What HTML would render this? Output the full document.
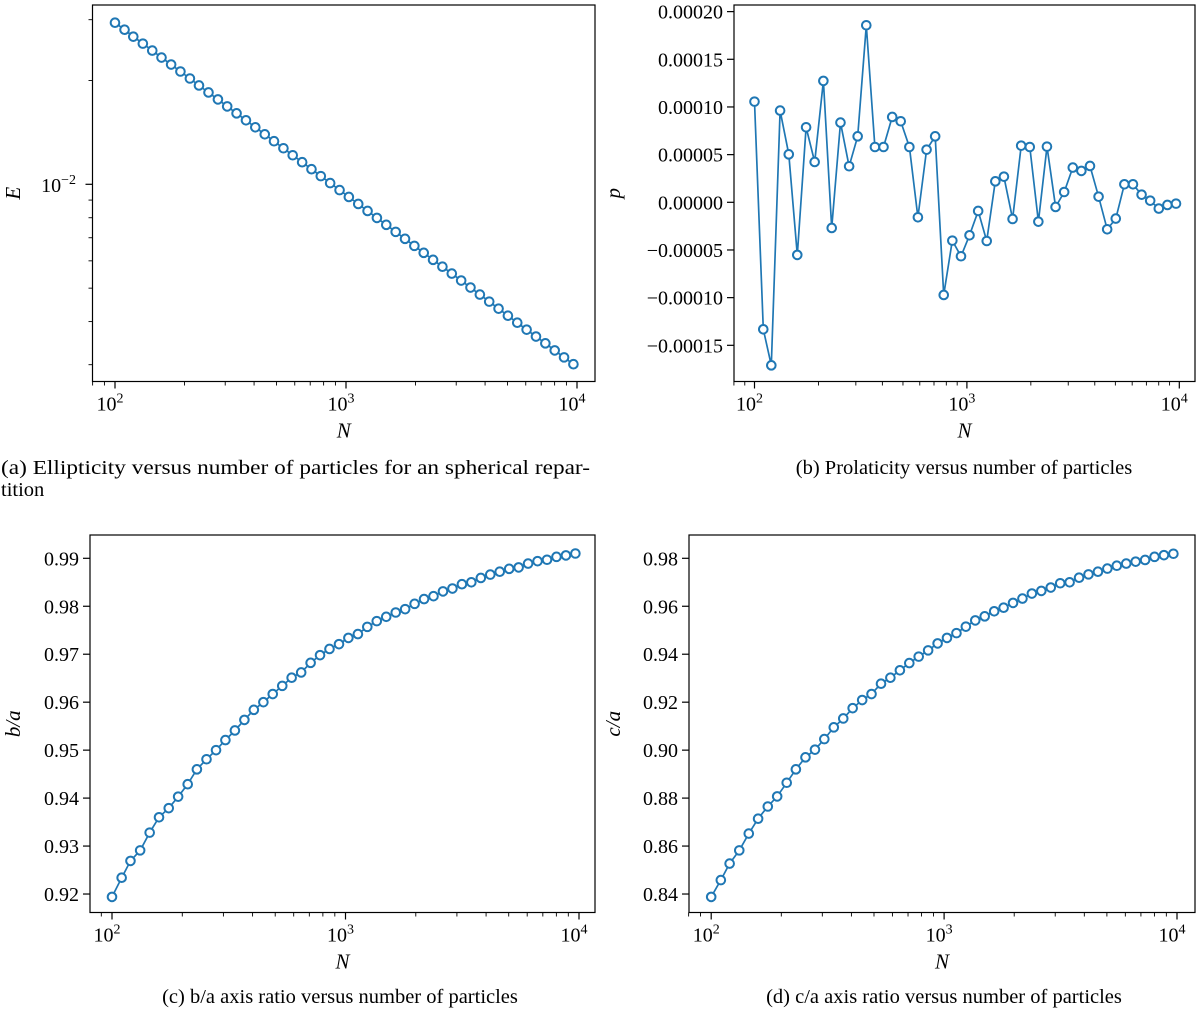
<!DOCTYPE html>
<html><head><meta charset="utf-8"><style>
body{margin:0;background:#fff}
svg{display:block;font-family:"Liberation Serif",serif}
</style></head><body>
<svg id="fig" width="1200" height="1012" viewBox="0 0 1200 1012" xmlns="http://www.w3.org/2000/svg"></svg>
<script>
const Ns=[100,110,120,132,145,159,175,192,211,231,254,279,306,336,369,405,445,488,536,588,646,709,778,854,938,1029,1130,1240,1361,1494,1641,1801,1977,2170,2382,2615,2871,3152,3459,3798,4169,4576,5023,5514,6053,6645,7295,8008,8790,9650];
const Evals=[0.02940,0.02806,0.02679,0.02557,0.02441,0.02330,0.02224,0.02123,0.02026,0.01934,0.01846,0.01762,0.01682,0.01606,0.01533,0.01463,0.01396,0.01333,0.01272,0.01214,0.01159,0.01106,0.01056,0.01008,0.00962,0.00919,0.00877,0.00837,0.00799,0.00763,0.00728,0.00695,0.00663,0.00633,0.00604,0.00577,0.00551,0.00526,0.00502,0.00479,0.00457,0.00436,0.00416,0.00397,0.00379,0.00362,0.00346,0.00330,0.00315,0.00301];
const Pvals=[1.056,-1.332,-1.710,0.962,0.503,-0.552,0.787,0.423,1.273,-0.269,0.836,0.378,0.692,1.857,0.580,0.580,0.895,0.850,0.580,-0.157,0.552,0.692,-0.972,-0.402,-0.566,-0.346,-0.091,-0.406,0.220,0.269,-0.175,0.594,0.580,-0.203,0.584,-0.049,0.108,0.364,0.329,0.381,0.059,-0.283,-0.171,0.189,0.189,0.080,0.017,-0.066,-0.028,-0.014];
const BAvals=[0.9194,0.9234,0.9269,0.9291,0.9328,0.9360,0.9379,0.9403,0.9429,0.9460,0.9481,0.9500,0.9521,0.9541,0.9563,0.9584,0.9600,0.9617,0.9634,0.9651,0.9662,0.9682,0.9698,0.9711,0.9721,0.9734,0.9742,0.9757,0.9769,0.9778,0.9787,0.9794,0.9805,0.9815,0.9821,0.9831,0.9837,0.9846,0.9850,0.9859,0.9866,0.9872,0.9878,0.9881,0.9889,0.9894,0.9897,0.9903,0.9906,0.9910];
const CAvals=[0.8388,0.8458,0.8527,0.8582,0.8652,0.8714,0.8765,0.8807,0.8864,0.8920,0.8970,0.9002,0.9046,0.9095,0.9132,0.9175,0.9209,0.9234,0.9277,0.9302,0.9333,0.9363,0.9390,0.9416,0.9445,0.9468,0.9488,0.9515,0.9541,0.9558,0.9579,0.9594,0.9614,0.9632,0.9653,0.9664,0.9678,0.9696,0.9700,0.9719,0.9733,0.9744,0.9757,0.9769,0.9778,0.9786,0.9793,0.9806,0.9813,0.9819];
const pTicks=[0.00020,0.00015,0.00010,0.00005,0,-0.00005,-0.00010,-0.00015];
const pTickLabels=["0.00020","0.00015","0.00010","0.00005","0.00000","\u22120.00005","\u22120.00010","\u22120.00015"];
const baTicks=[0.92,0.93,0.94,0.95,0.96,0.97,0.98,0.99];
const caTicks=[0.84,0.86,0.88,0.90,0.92,0.94,0.96,0.98];
const xDecades=[2,3,4];

const NS="http://www.w3.org/2000/svg";
const svg=document.getElementById('fig');
function el(tag,attrs,parent){const e=document.createElementNS(NS,tag);for(const k in attrs)e.setAttribute(k,attrs[k]);(parent||svg).appendChild(e);return e;}
const C='#1f77b4';
const TF=20;

function panel(key,box,xs,ys,vals,yt,ytl,ylab,ylabX,logMinorY){
  const g=el('g',{});
  
  
  for(let d=1;d<=4;d++){for(let m=1;m<10;m++){const v=m*Math.pow(10,d);const x=xs(v);if(x<box.l-0.5||x>box.r+0.5)continue;
    const major=(m===1);
    const t=el('line',{x1:x,x2:x,y1:box.b,y2:box.b+(major?7:4),stroke:'#000','stroke-width':major?1.2:0.9},g);
    
    }}
  xDecades.forEach(d=>{const x=xs(Math.pow(10,d));
    const t=el('text',{x:x-5,y:box.b+29,'text-anchor':'middle','font-size':TF},g);
    
    
    t.textContent='10';
    const s=el('tspan',{dy:-8,'font-size':14},t);s.textContent=String(d);});
  const xl=el('text',{x:(box.l+box.r)/2,y:box.b+56,'text-anchor':'middle','font-size':21,'font-style':'italic'},g);
  
  
  xl.textContent='N';
  yt.forEach((v,i)=>{const y=ys(v);
    const t=el('line',{x1:box.l-7,x2:box.l,y1:y,y2:y,stroke:'#000','stroke-width':1.2},g);
    
    
    if(ytl[i]!==null){const tx=el('text',{x:box.l-11,y:y+7,'text-anchor':'end','font-size':TF},g);
      
      
      tx.textContent=ytl[i];}});
  if(logMinorY){logMinorY.forEach(v=>{const y=ys(v);
    const t=el('line',{x1:box.l-4,x2:box.l,y1:y,y2:y,stroke:'#000','stroke-width':0.9},g);
    
    });}
  const yl=el('text',{x:ylabX,y:(box.t+box.b)/2,'text-anchor':'middle','font-size':21,'font-style':'italic',transform:`rotate(-90 ${ylabX} ${(box.t+box.b)/2})`},g);
  
  
  yl.textContent=ylab;
  const pts=Ns.map((n,i)=>[xs(n),ys(vals[i])]);
  const line=el('polyline',{points:pts.map(p=>p[0].toFixed(1)+','+p[1].toFixed(1)).join(' '),fill:'none',stroke:C,'stroke-width':1.7},g);
  
  
  pts.forEach(p=>{const c=el('circle',{cx:p[0],cy:p[1],r:4.3,fill:'#fff',stroke:C,'stroke-width':2},g);
    
    });
  const fr=el('rect',{x:box.l,y:box.t,width:box.r-box.l,height:box.b-box.t,fill:'none',stroke:'#000','stroke-width':1.2},g);
  
  
}
const lg=Math.log10;
const boxA={l:92.5,t:5,r:595,b:381.5};
panel('ellipticity',boxA,n=>115+231*(lg(n)-2),v=>184.3-345*(lg(v)+2),Evals,[0.01],[null],'E',20,[0.003,0.004,0.005,0.006,0.007,0.008,0.009,0.02,0.03]);
{const t=el('text',{x:76,y:192,'text-anchor':'end','font-size':TF});


t.textContent='10';const s=el('tspan',{dy:-8,'font-size':14},t);s.textContent='\u22122';}
const boxB={l:734,t:5,r:1195,b:381.5};
panel('prolaticity',boxB,n=>754.5+212.4*(lg(n)-2),v=>202.3-v/0.00005*47.67,Pvals.map(v=>v*1e-4),pTicks,pTickLabels,'p',620,null);
const boxC={l:90,t:535,r:595,b:912.5};
panel('b-over-a',boxC,n=>112+233.5*(lg(n)-2),v=>558.3-(v-0.99)/0.01*47.96,BAvals,baTicks,baTicks.map(v=>v.toFixed(2)),'b/a',20,null);
const boxD={l:689,t:535,r:1195,b:912.5};
panel('c-over-a',boxD,n=>711.2+232.9*(lg(n)-2),v=>558.3-(v-0.98)/0.02*47.96,CAvals,caTicks,caTicks.map(v=>v.toFixed(2)),'c/a',620,null);
function cap(name,x,y,txt,anchor,len){const t=el('text',{x:x,y:y,'text-anchor':anchor,'font-size':20.5});
  
  
  if(len){t.setAttribute('textLength',len);t.setAttribute('lengthAdjust','spacingAndGlyphs');}
  t.textContent=txt;return t;}
cap('caption-a',1,474,'(a) Ellipticity versus number of particles for an spherical repar-','start',589);
cap('caption-a-line2',1,496,'tition','start',null);
cap('caption-b',964,474,'(b) Prolaticity versus number of particles','middle',null);
cap('caption-c',340,1003,'(c) b/a axis ratio versus number of particles','middle',null);
cap('caption-d',944,1003,'(d) c/a axis ratio versus number of particles','middle',null);
</script>
</body></html>
